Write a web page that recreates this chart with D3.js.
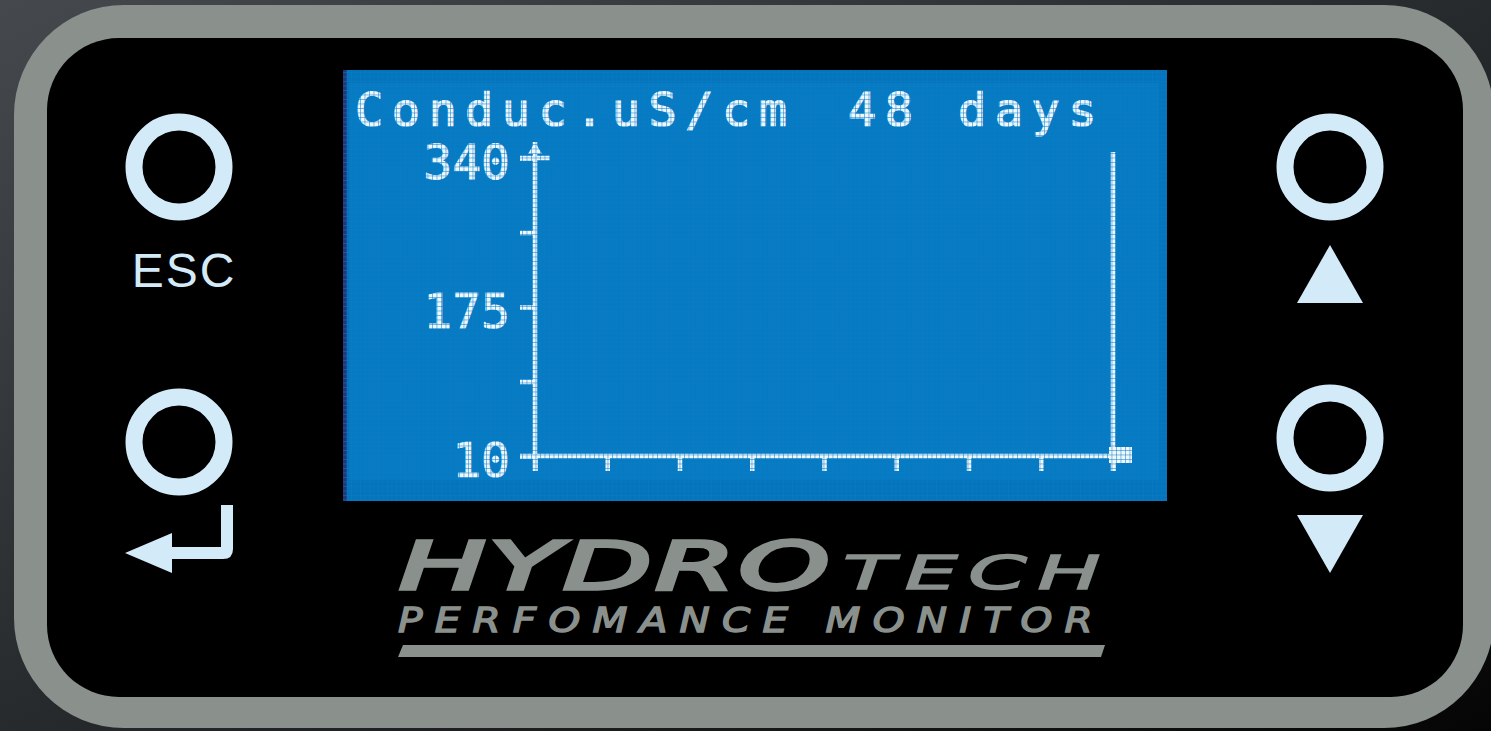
<!DOCTYPE html>
<html lang="en">
<head>
<meta charset="UTF-8">
<title>Hydrotech performance monitor</title>
<script src="https://d3js.org/d3.v7.min.js"></script>
<style>
  html, body { margin: 0; padding: 0; background: #1c1e20; overflow: hidden; }
  svg { display: block; }
</style>
</head>
<body>
<div id="panel"></div>
<script>
var width = 1491
var height = 731

// screen contents
const titleText = "Conduc.uS/cm"
const periodText = "48 days"
const yDomain = [10, 340]
const yTicks = [10, 92.5, 175, 257.5, 340]
const yLabels = ["10", "", "175", "", "340"]
const xDomain = [0, 48]
const xTicks = [0, 6, 12, 18, 24, 30, 36, 42, 48]

// logo texts
const brandMain = "HYDRO"
const brandSub = "TECH"
const brandLine = "PERFOMANCE MONITOR"
const escLabel = "ESC"

const lcdWhite = "#eef7fe"
const btnColor = "#d3ebf9"
const bezel = "#8a918d"

const svg = d3.select("#panel")
    .append("svg")
    .attr("width", width)
    .attr("height", height)

const defs = svg.append("defs")
const bg = defs.append("linearGradient").attr("id", "bg")
    .attr("x1", 0).attr("y1", 0).attr("x2", 1).attr("y2", 1)
bg.append("stop").attr("offset", "0%").attr("stop-color", "#45494d")
bg.append("stop").attr("offset", "55%").attr("stop-color", "#24272a")
bg.append("stop").attr("offset", "100%").attr("stop-color", "#050505")

// lcd dot grid
const pat = defs.append("pattern").attr("id", "dots")
    .attr("width", 4.5).attr("height", 4.5)
    .attr("patternUnits", "userSpaceOnUse")
pat.append("rect").attr("width", 4.5).attr("height", 0.9).attr("fill", "#0a7bc3").attr("opacity", 0.55)
pat.append("rect").attr("width", 0.9).attr("height", 4.5).attr("fill", "#0a7bc3").attr("opacity", 0.55)

svg.append("rect").attr("width", width).attr("height", height).attr("fill", "url(#bg)")

// bezel + face
svg.append("rect").attr("x", 14).attr("y", 5).attr("width", 1480).attr("height", 723)
    .attr("rx", 110).attr("fill", bezel)
svg.append("rect").attr("x", 47).attr("y", 38).attr("width", 1416).attr("height", 659)
    .attr("rx", 72).attr("fill", "#000")

//************** LCD screen *****************
const screen = svg.append("g")
screen.append("rect").attr("x", 343).attr("y", 70).attr("width", 824).attr("height", 431).attr("fill", "#0475bd")
screen.append("rect").attr("x", 349).attr("y", 83).attr("width", 810).attr("height", 397).attr("fill", "#067bc4")
screen.append("rect").attr("x", 343).attr("y", 70).attr("width", 4).attr("height", 431).attr("fill", "#24367a")

var x = d3.scaleLinear().domain(xDomain).range([535, 1113])
var y = d3.scaleLinear().domain(yDomain).range([456, 158])

const lcd = screen.append("g")

lcd.selectAll(".title")
    .data([[355, titleText], [848, periodText]])
    .enter()
    .append("text")
    .attr("class", "title")
    .attr("x", function(d) { return d[0] })
    .attr("y", 126)
    .attr("font-family", "DejaVu Sans Mono")
    .attr("font-size", 47)
    .attr("letter-spacing", 8.4)
    .attr("fill", lcdWhite)
    .attr("stroke", lcdWhite)
    .attr("stroke-width", 1.2)
    .text(function(d) { return d[1] })

// y axis
var yAxis = lcd.append("g")
    .attr("transform", "translate(" + x(0) + ",0)")
    .call(d3.axisLeft(y)
        .tickValues(yTicks)
        .tickSize(15)
        .tickPadding(10)
        .tickFormat(function(d, i) { return yLabels[i] }))
yAxis.select(".domain").remove()
yAxis.selectAll("line").attr("stroke", lcdWhite).attr("stroke-width", 4.5)
yAxis.selectAll("text")
    .attr("fill", lcdWhite)
    .attr("stroke", lcdWhite)
    .attr("stroke-width", 0.8)
    .attr("font-family", "DejaVu Sans Mono")
    .attr("font-size", 48)
    .attr("dy", "0.42em")

// x axis
var xAxis = lcd.append("g")
    .attr("transform", "translate(0," + y(10) + ")")
    .call(d3.axisBottom(x)
        .tickValues(xTicks)
        .tickSize(15)
        .tickFormat(""))
xAxis.select(".domain").remove()
xAxis.selectAll("line").attr("stroke", lcdWhite).attr("stroke-width", 4.5)

// axis lines
lcd.append("line")
    .attr("x1", x(0)).attr("x2", x(0))
    .attr("y1", y(340) - 16).attr("y2", y(10) + 15)
    .attr("stroke", lcdWhite).attr("stroke-width", 4.5)
lcd.append("line")
    .attr("x1", x(0) - 15).attr("x2", x(0) + 15)
    .attr("y1", y(340)).attr("y2", y(340))
    .attr("stroke", lcdWhite).attr("stroke-width", 4.5)
lcd.append("path")
    .attr("d", "M" + x(0) + "," + (y(340) - 16) + "l-7,12h14z")
    .attr("fill", lcdWhite)
lcd.append("line")
    .attr("x1", x(0) - 15).attr("x2", x(48) + 18)
    .attr("y1", y(10)).attr("y2", y(10))
    .attr("stroke", lcdWhite).attr("stroke-width", 4.5)
// cursor at end of period
lcd.append("line")
    .attr("x1", x(48)).attr("x2", x(48))
    .attr("y1", y(340) - 6).attr("y2", y(10) + 15)
    .attr("stroke", lcdWhite).attr("stroke-width", 4.5)
lcd.append("rect")
    .attr("x", x(48) - 4).attr("y", y(10) - 9)
    .attr("width", 23).attr("height", 16)
    .attr("fill", lcdWhite)

screen.append("rect").attr("x", 343).attr("y", 70).attr("width", 824).attr("height", 431).attr("fill", "url(#dots)")

//************** buttons *****************
const buttons = svg.append("g")
buttons.selectAll("circle")
    .data([[179, 167], [179, 442], [1330, 167], [1330, 438]])
    .enter()
    .append("circle")
    .attr("cx", function(d) { return d[0] })
    .attr("cy", function(d) { return d[1] })
    .attr("r", 45)
    .attr("fill", "none")
    .attr("stroke", btnColor)
    .attr("stroke-width", 17)

buttons.append("text")
    .attr("x", 184).attr("y", 287)
    .attr("text-anchor", "middle")
    .attr("font-family", "Liberation Sans")
    .attr("font-size", 48)
    .attr("letter-spacing", 2)
    .attr("fill", btnColor)
    .text(escLabel)

buttons.append("path")
    .attr("d", "M221,505H233V549Q233,559 223,559H168V547H221Z")
    .attr("fill", btnColor)
buttons.append("path")
    .attr("d", "M125,553L172,533V573Z")
    .attr("fill", btnColor)
buttons.append("path")
    .attr("d", "M1330,245L1297,303H1363Z")
    .attr("fill", btnColor)
buttons.append("path")
    .attr("d", "M1297,515H1363L1330,573Z")
    .attr("fill", btnColor)

//************** logo *****************
const logo = svg.append("g").attr("fill", bezel).attr("stroke", bezel)
logo.append("text")
    .attr("x", 399).attr("y", 589)
    .attr("font-family", "DejaVu Sans")
    .attr("font-style", "italic")
    .attr("font-size", 66)
    .attr("letter-spacing", 2)
    .attr("stroke-width", 3.5)
    .attr("textLength", 434)
    .attr("lengthAdjust", "spacingAndGlyphs")
    .text(brandMain)
logo.append("text")
    .attr("x", 843).attr("y", 589)
    .attr("font-family", "DejaVu Sans")
    .attr("font-style", "italic")
    .attr("font-size", 47)
    .attr("letter-spacing", 6)
    .attr("stroke-width", 1.5)
    .attr("textLength", 268)
    .attr("lengthAdjust", "spacingAndGlyphs")
    .text(brandSub)
logo.append("text")
    .attr("x", 398).attr("y", 632)
    .attr("font-family", "DejaVu Sans")
    .attr("font-style", "italic")
    .attr("font-size", 33)
    .attr("letter-spacing", 10)
    .attr("stroke-width", 1.4)
    .attr("textLength", 707)
    .attr("lengthAdjust", "spacingAndGlyphs")
    .text(brandLine)
logo.append("path")
    .attr("stroke", "none")
    .attr("d", "M403,645H1105L1101,657H398Z")
</script>
</body>
</html>
